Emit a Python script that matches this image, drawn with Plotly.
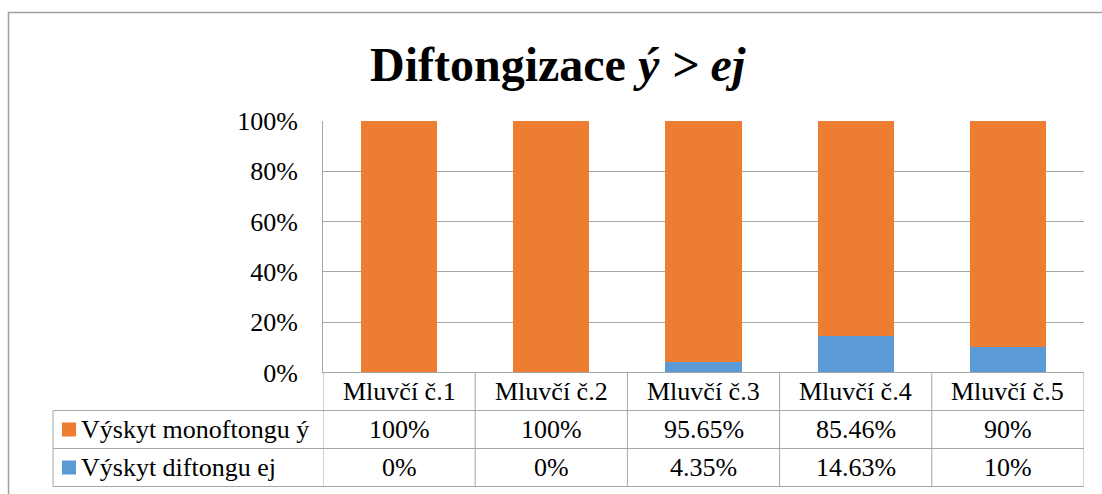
import plotly.graph_objects as go

# data
speakers = ["Mluvčí č.1", "Mluvčí č.2", "Mluvčí č.3", "Mluvčí č.4", "Mluvčí č.5"]
mono_pct = [100, 100, 95.65, 85.46, 90]
diph_pct = [0, 0, 4.35, 14.63, 10]
series_names = ["Výskyt monoftongu ý", "Výskyt diftongu ej"]

ORANGE = "#ED7D31"
BLUE = "#5B9BD5"
GRID = "#A6A6A6"
FONT = "Liberation Serif, Times New Roman, serif"

W, H = 1102, 494


def px_x(x):
    return x / W


def px_y(y):
    return 1 - y / H


# 100% stacked: normalise each column
totals = [m + d for m, d in zip(mono_pct, diph_pct)]
mono_share = [m / t for m, t in zip(mono_pct, totals)]
diph_share = [d / t for d, t in zip(diph_pct, totals)]

fig = go.Figure()
fig.add_trace(go.Bar(x=speakers, y=diph_share, name=series_names[1], marker_color=BLUE,
                     marker_line_width=0, width=0.5))
fig.add_trace(go.Bar(x=speakers, y=mono_share, name=series_names[0], marker_color=ORANGE,
                     marker_line_width=0, width=0.5))

# plot area in pixels
left, right, top, bottom = 323, 1084, 121, 372.5
row_h = 38
table_left = 53

fig.update_layout(
    width=W,
    height=H,
    margin=dict(l=0, r=0, t=0, b=0, autoexpand=False),
    paper_bgcolor="white",
    plot_bgcolor="white",
    barmode="stack",
    showlegend=False,
    font=dict(family=FONT, size=26, color="black"),
    xaxis=dict(domain=[px_x(left), px_x(right)], showticklabels=False, showgrid=False,
               zeroline=False, showline=False, range=[-0.5, len(speakers) - 0.5],
               automargin=False),
    yaxis=dict(domain=[px_y(bottom), px_y(top)], range=[0, 1], dtick=0.2, tickformat=".0%",
               showgrid=True, gridcolor=GRID, gridwidth=1, zeroline=False,
               showline=True, linecolor=GRID, linewidth=1, ticklabelstandoff=19,
               automargin=False, tickfont=dict(family=FONT, size=26, color="black")),
)

line = dict(color=GRID, width=1)
shapes = []
# outer chart border (left and top)
shapes.append(dict(type="path", xref="paper", yref="paper",
                   path=f"M {px_x(8.5)},0 L {px_x(8.5)},{px_y(12.5)} L 1,{px_y(12.5)}",
                   line=dict(color="#A0A0A0", width=1.5)))
# horizontal table lines
shapes.append(dict(type="line", xref="paper", yref="paper", x0=px_x(left), x1=px_x(right),
                   y0=px_y(bottom), y1=px_y(bottom), line=line))
for i in range(1, 4):
    y = bottom + i * row_h
    shapes.append(dict(type="line", xref="paper", yref="paper", x0=px_x(table_left), x1=px_x(right),
                       y0=px_y(y), y1=px_y(y), line=line))
# vertical table lines
shapes.append(dict(type="line", xref="paper", yref="paper", x0=px_x(table_left), x1=px_x(table_left),
                   y0=px_y(bottom + row_h), y1=px_y(bottom + 3 * row_h), line=line))
for k in range(len(speakers) + 1):
    shapes.append(dict(type="line", xref="x", yref="paper", x0=k - 0.5, x1=k - 0.5,
                       y0=px_y(bottom), y1=px_y(bottom + 3 * row_h), line=line))

annotations = []
# header row
for sp in speakers:
    annotations.append(dict(x=sp, xref="x", y=px_y(bottom + row_h / 2), yref="paper", text=sp,
                            showarrow=False, xanchor="center", yanchor="middle",
                            font=dict(family=FONT, size=26, color="black")))
# data rows
for r, (vals, name, col) in enumerate([(mono_pct, series_names[0], ORANGE),
                                       (diph_pct, series_names[1], BLUE)]):
    yc = bottom + row_h * (r + 1) + row_h / 2
    shapes.append(dict(type="rect", xref="paper", yref="paper", x0=px_x(62), x1=px_x(76),
                       y0=px_y(yc - 7), y1=px_y(yc + 7), fillcolor=col, line_width=0))
    annotations.append(dict(x=px_x(79), xref="paper", y=px_y(yc), yref="paper", text=name,
                            showarrow=False, xanchor="left", yanchor="middle",
                            font=dict(family=FONT, size=26, color="black")))
    for sp, v in zip(speakers, vals):
        annotations.append(dict(x=sp, xref="x", y=px_y(yc), yref="paper", text=f"{v:g}%",
                                showarrow=False, xanchor="center", yanchor="middle",
                                font=dict(family=FONT, size=26, color="black")))

# title
annotations.append(dict(x=px_x(558), xref="paper", y=px_y(64), yref="paper",
                        text="<b>Diftongizace <i>ý &gt; ej</i></b>", showarrow=False,
                        xanchor="center", yanchor="middle",
                        font=dict(family=FONT, size=48, color="black")))

fig.update_layout(shapes=shapes, annotations=annotations)

# page without body margin / scrollbars so the figure fills the window
fig.write_html("out.html", config={"displayModeBar": False},
               post_script="document.body.style.margin='0';document.body.style.overflow='hidden';")
